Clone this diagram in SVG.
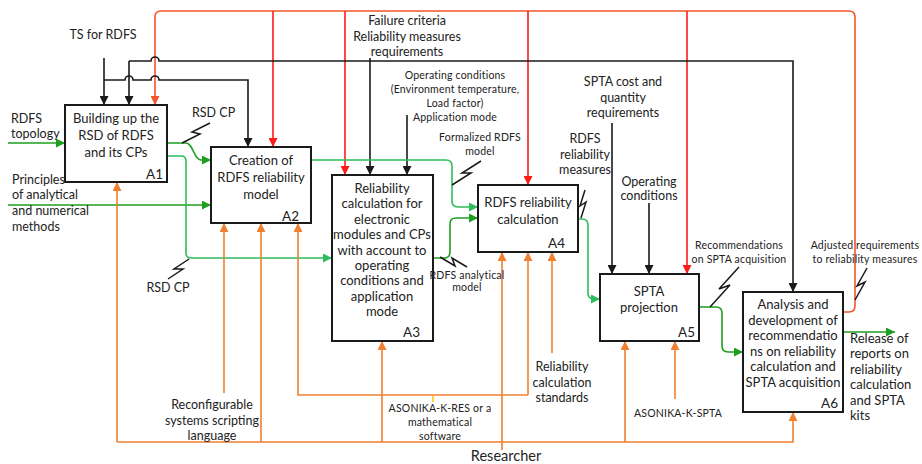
<svg xmlns="http://www.w3.org/2000/svg" width="922" height="464" viewBox="0 0 922 464">
<style>
text{font-family:Lato,"Liberation Sans",sans-serif;fill:#222}
.bt{font-size:13px;text-anchor:middle}
.id{font-size:13.5px;text-anchor:end}
.lb{font-size:12.5px;text-anchor:middle}
.ll{font-size:12.5px}
.sm{font-size:10.5px;text-anchor:middle;letter-spacing:0.2px}
.box{fill:#fff;stroke:#1a1a1a;stroke-width:2}
.c{fill:none;stroke-width:1.6}
.k{stroke:#1a1a1a}
.r{stroke:#ff1a1a}
.ro{stroke:#f4552a}
.gd{stroke:#1e9e1e}
.gl{stroke:#2ebd5c}
.o{stroke:#ef8030}
.sq{fill:none;stroke:#1a1a1a;stroke-width:1.5}
</style>
<defs>
<marker id="ak" viewBox="0 0 10 10" refX="10" refY="5" markerWidth="9" markerHeight="9" markerUnits="userSpaceOnUse" orient="auto"><path d="M0,0L10,5L0,10z" fill="#1a1a1a"/></marker>
<marker id="ar" viewBox="0 0 10 10" refX="10" refY="5" markerWidth="9" markerHeight="9" markerUnits="userSpaceOnUse" orient="auto"><path d="M0,0L10,5L0,10z" fill="#ff1a1a"/></marker>
<marker id="aro" viewBox="0 0 10 10" refX="10" refY="5" markerWidth="9" markerHeight="9" markerUnits="userSpaceOnUse" orient="auto"><path d="M0,0L10,5L0,10z" fill="#f4552a"/></marker>
<marker id="agd" viewBox="0 0 10 10" refX="10" refY="5" markerWidth="9" markerHeight="9" markerUnits="userSpaceOnUse" orient="auto"><path d="M0,0L10,5L0,10z" fill="#1e9e1e"/></marker>
<marker id="agl" viewBox="0 0 10 10" refX="10" refY="5" markerWidth="9" markerHeight="9" markerUnits="userSpaceOnUse" orient="auto"><path d="M0,0L10,5L0,10z" fill="#2ebd5c"/></marker>
<marker id="ao" viewBox="0 0 10 10" refX="10" refY="5" markerWidth="9" markerHeight="9" markerUnits="userSpaceOnUse" orient="auto"><path d="M0,0L10,5L0,10z" fill="#ef8030"/></marker>
</defs>
<rect width="922" height="464" fill="#fff"/>
<g id="connectors">
<path class="c ro" d="M843,312H849Q855,312 855,306V17Q855,11 849,11H161Q155,11 155,17V105" marker-end="url(#aro)"/>
<path class="c r" d="M273,11V147" marker-end="url(#ar)"/>
<path class="c r" d="M345,11V175" marker-end="url(#ar)"/>
<path class="c r" d="M528,11V185" marker-end="url(#ar)"/>
<path class="c r" d="M687,11V274" marker-end="url(#ar)"/>
<path class="c k" d="M104,58V105" marker-end="url(#ak)"/>
<path class="c k" d="M104,80H125a4,4 0 0 1 8,0H151a4,4 0 0 1 8,0H248V147" marker-end="url(#ak)"/>
<path class="c k" d="M129,61V105" marker-end="url(#ak)"/>
<path class="c k" d="M129,61H151a4,4 0 0 1 8,0H793V292" marker-end="url(#ak)"/>
<path class="c k" d="M370,58V175" marker-end="url(#ak)"/>
<path class="c k" d="M407,115V175" marker-end="url(#ak)"/>
<path class="c k" d="M612,123V274" marker-end="url(#ak)"/>
<path class="c k" d="M649,203V274" marker-end="url(#ak)"/>
<path class="c gd" d="M8,143H65" marker-end="url(#agd)"/>
<path class="c gd" d="M8,205H211" marker-end="url(#agd)"/>
<path class="c gd" d="M167,143H186C193,143 194,160 201,160H211" marker-end="url(#agd)"/>
<path class="c gl" d="M167,156H181Q186,156 186,161V253Q186,258 191,258H332" marker-end="url(#agl)"/>
<path class="c gl" d="M311,160H446Q452,160 452,166V201Q452,207 458,207H478" marker-end="url(#agl)"/>
<path class="c gd" d="M433,258H444Q450,258 450,252V224Q450,218 456,218H478" marker-end="url(#agd)"/>
<path class="c gl" d="M578,219H582Q588,219 588,225V293Q588,299 594,299H600" marker-end="url(#agl)"/>
<path class="c gd" d="M699,307H716Q722,307 722,313V346Q722,352 728,352H743" marker-end="url(#agd)"/>
<path class="c gd" d="M843,332H895" marker-end="url(#agd)"/>
<path class="c o" d="M117,442V182" marker-end="url(#ao)"/>
<path class="c o" d="M117,442H793V412" marker-end="url(#ao)"/>
<path class="c o" d="M261,442V223" marker-end="url(#ao)"/>
<path class="c o" d="M382,442V341" marker-end="url(#ao)"/>
<path class="c o" d="M625,442V341" marker-end="url(#ao)"/>
<path class="c o" d="M502,450V252" marker-end="url(#ao)"/>
<path class="c o" d="M224,393V223" marker-end="url(#ao)"/>
<path class="c o" d="M528,395H298V223" marker-end="url(#ao)"/>
<path class="c o" d="M528,395V252" marker-end="url(#ao)"/>
<path class="c o" d="M552,353V252" marker-end="url(#ao)"/>
<path class="c o" d="M675,399V341" marker-end="url(#ao)"/>
<path fill="none" stroke="#ffc000" stroke-width="1.5" d="M433,396V402"/>
<path class="sq" d="M182,143L200,134L192,132L210,123"/>
<path class="sq" d="M168,279L183,269L174,269L189,259"/>
<path class="sq" d="M452,185L471,173L462,173L481,161"/>
<path class="sq" d="M440,257L455,266L452,258L467,267"/>
<path class="sq" d="M581,218L586,202L580,206L585,190"/>
<path class="sq" d="M710,307L730,285L719,289L739,267"/>
<path class="sq" d="M855,300L865,282L857,286L867,268"/>
</g>
<g id="A1">
<rect class="box" x="65" y="105" width="102" height="77"/>
<text class="bt"><tspan x="116" y="123">Building up the</tspan><tspan x="116" y="140">RSD of RDFS</tspan><tspan x="116" y="157">and its CPs</tspan></text>
<text class="id" x="163" y="179">A1</text>
</g>
<g id="A2">
<rect class="box" x="211" y="147" width="100" height="76"/>
<text class="bt"><tspan x="261" y="165">Creation of</tspan><tspan x="261" y="182">RDFS reliability</tspan><tspan x="261" y="199">model</tspan></text>
<text class="id" x="299" y="221">A2</text>
</g>
<g id="A3">
<rect class="box" x="332" y="175" width="101" height="166"/>
<text class="bt"><tspan x="382" y="193">Reliability</tspan><tspan x="382" y="208.4">calculation for</tspan><tspan x="382" y="223.8">electronic</tspan><tspan x="382" y="239.2">modules and CPs</tspan><tspan x="382" y="254.6">with account to</tspan><tspan x="382" y="270">operating</tspan><tspan x="382" y="285.4">conditions and</tspan><tspan x="382" y="300.8">application</tspan><tspan x="382" y="316.2">mode</tspan></text>
<text class="id" x="420" y="337">A3</text>
</g>
<g id="A4">
<rect class="box" x="478" y="185" width="100" height="67"/>
<text class="bt"><tspan x="528" y="207">RDFS reliability</tspan><tspan x="528" y="224">calculation</tspan></text>
<text class="id" x="565" y="248">A4</text>
</g>
<g id="A5">
<rect class="box" x="600" y="274" width="99" height="67"/>
<text class="bt"><tspan x="649" y="296">SPTA</tspan><tspan x="649" y="312">projection</tspan></text>
<text class="id" x="695" y="337">A5</text>
</g>
<g id="A6">
<rect class="box" x="743" y="292" width="100" height="120"/>
<text class="bt"><tspan x="793" y="309">Analysis and</tspan><tspan x="793" y="324.6">development of</tspan><tspan x="793" y="340.2">recommendatio</tspan><tspan x="793" y="355.8">ns on reliability</tspan><tspan x="793" y="371.4">calculation and</tspan><tspan x="793" y="387">SPTA acquisition</tspan></text>
<text class="id" x="838" y="408">A6</text>
</g>
<g id="labels">
<text class="lb" x="103" y="39">TS for RDFS</text>
<text class="lb"><tspan x="407" y="25">Failure criteria</tspan><tspan x="407" y="41">Reliability measures</tspan><tspan x="407" y="56">requirements</tspan></text>
<text class="sm"><tspan x="455" y="79">Operating conditions</tspan><tspan x="455" y="93">(Environment temperature,</tspan><tspan x="455" y="107">Load factor)</tspan><tspan x="455" y="121">Application mode</tspan></text>
<text class="ll"><tspan x="11" y="123">RDFS</tspan><tspan x="11" y="138">topology</tspan></text>
<text class="ll"><tspan x="12" y="184">Principles</tspan><tspan x="12" y="199">of analytical</tspan><tspan x="12" y="215">and numerical</tspan><tspan x="12" y="231">methods</tspan></text>
<text class="ll" x="192" y="117">RSD CP</text>
<text class="lb" x="168" y="292">RSD CP</text>
<text class="sm"><tspan x="480" y="141">Formalized RDFS</tspan><tspan x="480" y="155">model</tspan></text>
<text class="lb"><tspan x="585" y="143">RDFS</tspan><tspan x="585" y="159">reliability</tspan><tspan x="585" y="174">measures</tspan></text>
<text class="lb"><tspan x="623" y="86">SPTA cost and</tspan><tspan x="623" y="102">quantity</tspan><tspan x="623" y="117">requirements</tspan></text>
<text class="lb"><tspan x="649" y="186">Operating</tspan><tspan x="649" y="200">conditions</tspan></text>
<text class="sm"><tspan x="467" y="279">RDFS analytical</tspan><tspan x="467" y="291">model</tspan></text>
<text class="sm"><tspan x="739" y="249">Recommendations</tspan><tspan x="739" y="263">on SPTA acquisition</tspan></text>
<text class="sm"><tspan x="865" y="249">Adjusted requirements</tspan><tspan x="865" y="263">to reliability measures</tspan></text>
<text class="ll" style="font-size:13px"><tspan x="850" y="343">Release of</tspan><tspan x="850" y="358.4">reports on</tspan><tspan x="850" y="373.8">reliability</tspan><tspan x="850" y="389.2">calculation</tspan><tspan x="850" y="404.6">and SPTA</tspan><tspan x="850" y="420">kits</tspan></text>
<text class="lb"><tspan x="212" y="409">Reconfigurable</tspan><tspan x="212" y="425">systems scripting</tspan><tspan x="212" y="440">language</tspan></text>
<text class="sm"><tspan x="440" y="412">ASONIKA-K-RES or a</tspan><tspan x="440" y="426">mathematical</tspan><tspan x="440" y="440">software</tspan></text>
<text class="lb"><tspan x="562" y="371">Reliability</tspan><tspan x="562" y="387">calculation</tspan><tspan x="562" y="402">standards</tspan></text>
<text class="sm" x="678" y="417">ASONIKA-K-SPTA</text>
<text class="lb" style="font-size:14.5px" x="506" y="461">Researcher</text>
</g>
</svg>
